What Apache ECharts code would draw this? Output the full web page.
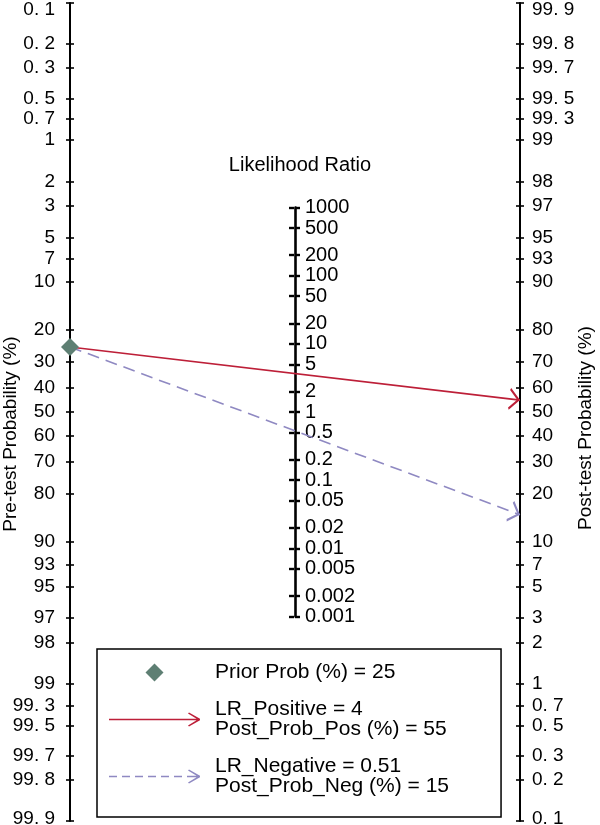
<!DOCTYPE html>
<html>
<head>
<meta charset="utf-8">
<title>Fagan nomogram</title>
<script src="https://cdn.jsdelivr.net/npm/echarts@6/dist/echarts.min.js"></script>
<style>
  html, body { margin: 0; padding: 0; background: #fff; }
  #chart { width: 600px; height: 825px; }
</style>
</head>
<body>
<div id="chart"></div>
<script>
// probability ticks (%) used by both the pre-test and post-test axes
const probTicks = [0.1, 0.2, 0.3, 0.5, 0.7, 1, 2, 3, 5, 7, 10, 20, 30, 40, 50, 60, 70, 80, 90, 93, 95, 97, 98, 99, 99.3, 99.5, 99.7, 99.8, 99.9]
const probLabels = ['0. 1', '0. 2', '0. 3', '0. 5', '0. 7', '1', '2', '3', '5', '7', '10', '20', '30', '40', '50', '60', '70', '80', '90', '93', '95', '97', '98', '99', '99. 3', '99. 5', '99. 7', '99. 8', '99. 9']
// likelihood ratio ticks
const lrTicks = [1000, 500, 200, 100, 50, 20, 10, 5, 2, 1, 0.5, 0.2, 0.1, 0.05, 0.02, 0.01, 0.005, 0.002, 0.001]
const lrLabels = ['1000', '500', '200', '100', '50', '20', '10', '5', '2', '1', '0.5', '0.2', '0.1', '0.05', '0.02', '0.01', '0.005', '0.002', '0.001']

const priorProb = 25
const lrPositive = 4
const postProbPos = 55
const lrNegative = 0.51
const postProbNeg = 15

const FONT = 'Arial, "Liberation Sans", sans-serif'
const RED = '#bd1f38'
const PURPLE = '#8f89c2'
const GREEN = '#5e7f73'

const logit = p => Math.log(p / (100 - p))

const leftVals = probTicks.map(p => logit(p))
const rightVals = probTicks.map(p => -logit(p))
const lrVals = lrTicks.map(v => Math.log(v) / 2)

// main grid geometry, middle axis uses the same px per unit
const gridTop = 3, gridBottom = 4, gridLeft = 70, gridRight = 80
const plotH = 825 - gridTop - gridBottom
const yMin = leftVals[0], yMax = leftVals[leftVals.length - 1]
const pxPerUnit = plotH / (yMax - yMin)
const lrMin = Math.min(...lrVals), lrMax = Math.max(...lrVals)
const midH = (lrMax - lrMin) * pxPerUnit
const midCenter = gridTop + (0 - yMin) * pxPerUnit
const midX = gridLeft + (600 - gridLeft - gridRight) / 2

function nearest(vals, v) {
	let best = 0
	vals.forEach((x, i) => { if (Math.abs(x - v) < Math.abs(vals[best] - v)) best = i })
	return best
}

function makeFormatter(vals, labels, edges) {
	const lo = Math.min(...vals), hi = Math.max(...vals)
	return v => {
		const i = nearest(vals, v)
		const s = labels[i]
		if (edges && Math.abs(vals[i] - lo) < 1e-9) return '{top|' + s + '}'
		if (edges && Math.abs(vals[i] - hi) < 1e-9) return '{bot|' + s + '}'
		return s
	}
}

const edgeRich = {
	top: { fontSize: 19, fontFamily: FONT, color: '#000', padding: [14, 0, 0, 0] },
	bot: { fontSize: 19, fontFamily: FONT, color: '#000', padding: [0, 0, 4, 0] }
}

function axisPair(opts) {
	const lo = Math.min(...opts.vals), hi = Math.max(...opts.vals)
	const base = {
		type: 'value',
		gridIndex: opts.grid,
		position: opts.position,
		min: lo,
		max: hi,
		inverse: opts.inverse,
		splitLine: { show: false },
		axisLine: { show: false, lineStyle: { color: '#000', width: opts.lineWidth } },
		axisTick: { show: true, customValues: opts.vals, length: opts.tick, lineStyle: { color: '#000', width: opts.tickWidth } },
		axisLabel: { show: false }
	}
	const main = echarts.util.merge(echarts.util.clone(base), {
		axisLine: { show: true, onZero: false },
		axisTick: { inside: false },
		axisLabel: {
			show: true,
			customValues: opts.vals,
			margin: opts.margin,
			fontSize: opts.fontSize,
			fontFamily: FONT,
			color: '#000',
			showMinLabel: true,
			showMaxLabel: true,
			formatter: makeFormatter(opts.vals, opts.labels, opts.edges),
			rich: edgeRich
		}
	}, true)
	if (opts.name) {
		main.name = opts.name
		main.nameLocation = 'middle'
		main.nameRotate = 90
		main.nameGap = opts.nameGap
		main.nameMoveOverlap = false
		main.nameTextStyle = { fontSize: 19, fontFamily: FONT, color: '#000', padding: opts.namePad }
	}
	const twin = echarts.util.merge(echarts.util.clone(base), { axisTick: { inside: true } }, true)
	return [main, twin]
}

// legend icons: arrow line and dashed arrow line (filled outlines, 91 x 14)
const chevron = ' M80,0 L91,6.3 L91,7.7 L80,14 L79,13 L88.8,7 L79,1 Z'
const solidIcon = 'path://M0,6.3 L89,6.3 L89,7.7 L0,7.7 Z' + chevron
let dashPath = ''
for (let x = 0; x < 78; x += 13) dashPath += ' M' + x + ',6.3 L' + (x + 8) + ',6.3 L' + (x + 8) + ',7.7 L' + x + ',7.7 Z'
dashPath += ' M78,6.3 L89,6.3 L89,7.7 L78,7.7 Z'
const dashedIcon = 'path://' + dashPath.trim() + chevron
const diamondIcon = 'path://M7,0 L14,7 L7,14 L0,7 Z'
// arrow head on the chart lines, tip at the symbol centre
const arrowHead = 'path://M6,0 L6.01,0 L6,0.01 Z M6,10 L12,19.2 L10.8,20 L6,12.6 L1.2,20 L0,19.2 Z'

const priorName = 'Prior Prob (%) = ' + priorProb
const posName = 'LR_Positive = ' + lrPositive + '\nPost_Prob_Pos (%) = ' + postProbPos
const negName = 'LR_Negative = ' + lrNegative + '\nPost_Prob_Neg (%) = ' + postProbNeg

const chart = echarts.init(document.getElementById('chart'))
chart.setOption({
	animation: false,
	backgroundColor: '#fff',
	title: {
		text: 'Likelihood Ratio',
		left: 'center',
		top: 150,
		textStyle: { fontSize: 20, fontWeight: 'normal', fontFamily: FONT, color: '#000' }
	},
	grid: [
		{ left: gridLeft, right: gridRight, top: gridTop, bottom: gridBottom, containLabel: false, outerBoundsMode: 'none' },
		{ left: midX - 1, width: 1, top: midCenter - midH / 2, height: midH, containLabel: false, outerBoundsMode: 'none' }
	],
	xAxis: [
		{ type: 'value', gridIndex: 0, min: 0, max: 1, show: false },
		{ type: 'value', gridIndex: 1, min: 0, max: 1, show: false }
	],
	yAxis: [
		...axisPair({ grid: 0, position: 'left', vals: leftVals, labels: probLabels, inverse: true, margin: 15, fontSize: 19, tick: 4, lineWidth: 2, tickWidth: 1.6, edges: true, name: 'Pre-test Probability (%)', nameGap: 50, namePad: [0, 44, 0, 0] }),
		...axisPair({ grid: 0, position: 'right', vals: rightVals, labels: probLabels, inverse: true, margin: 12, fontSize: 19, tick: 4, lineWidth: 2, tickWidth: 1.6, edges: true, name: 'Post-test Probability (%)', nameGap: 56, namePad: [0, 32, 0, 0] }),
		...axisPair({ grid: 1, position: 'right', vals: lrVals, labels: lrLabels, inverse: false, margin: 10, fontSize: 20, tick: 5, lineWidth: 2.6, tickWidth: 2.4, edges: false })
	],
	legend: {
		orient: 'vertical',
		left: 97,
		top: 649,
		height: 400,
		padding: [13, 52, 20, 12],
		itemWidth: 91,
		itemHeight: 18,
		itemGap: 16,
		symbolKeepAspect: true,
		selectedMode: false,
		backgroundColor: '#fff',
		borderColor: '#000',
		borderWidth: 1.5,
		data: [
			{ name: priorName, icon: diamondIcon, itemStyle: { color: GREEN, borderWidth: 0 } },
			{ name: posName, icon: solidIcon, itemStyle: { color: RED, borderWidth: 0 } },
			{ name: negName, icon: dashedIcon, itemStyle: { color: PURPLE, borderWidth: 0 } }
		],
		formatter: name => name.split('\n').map(s => '{t|' + s + '}').join('\n'),
		textStyle: {
			rich: { t: { fontSize: 21, lineHeight: 20, fontFamily: FONT, color: '#000', padding: [0, 0, 0, 10] } }
		}
	},
	series: [
		{
			name: posName,
			type: 'lines',
			coordinateSystem: 'cartesian2d',
			xAxisIndex: 0,
			yAxisIndex: 0,
			symbol: ['none', arrowHead],
			symbolSize: [14, 22],
			lineStyle: { color: RED, width: 1.6, opacity: 1 },
			itemStyle: { color: RED },
			data: [{ coords: [[0, logit(priorProb)], [1, -logit(postProbPos)]] }],
			z: 3
		},
		{
			name: negName,
			type: 'lines',
			coordinateSystem: 'cartesian2d',
			xAxisIndex: 0,
			yAxisIndex: 0,
			symbol: ['none', arrowHead],
			symbolSize: [14, 22],
			lineStyle: { color: PURPLE, width: 1.6, type: [12, 7], opacity: 1 },
			itemStyle: { color: PURPLE },
			data: [{ coords: [[0, logit(priorProb)], [1, -logit(postProbNeg)]] }],
			z: 3
		},
		{
			name: priorName,
			type: 'scatter',
			xAxisIndex: 0,
			yAxisIndex: 0,
			symbol: 'diamond',
			symbolSize: [18, 18],
			itemStyle: { color: GREEN, opacity: 1 },
			data: [[0, logit(priorProb)]],
			clip: false,
			z: 4
		}
	]
})
</script>
</body>
</html>
